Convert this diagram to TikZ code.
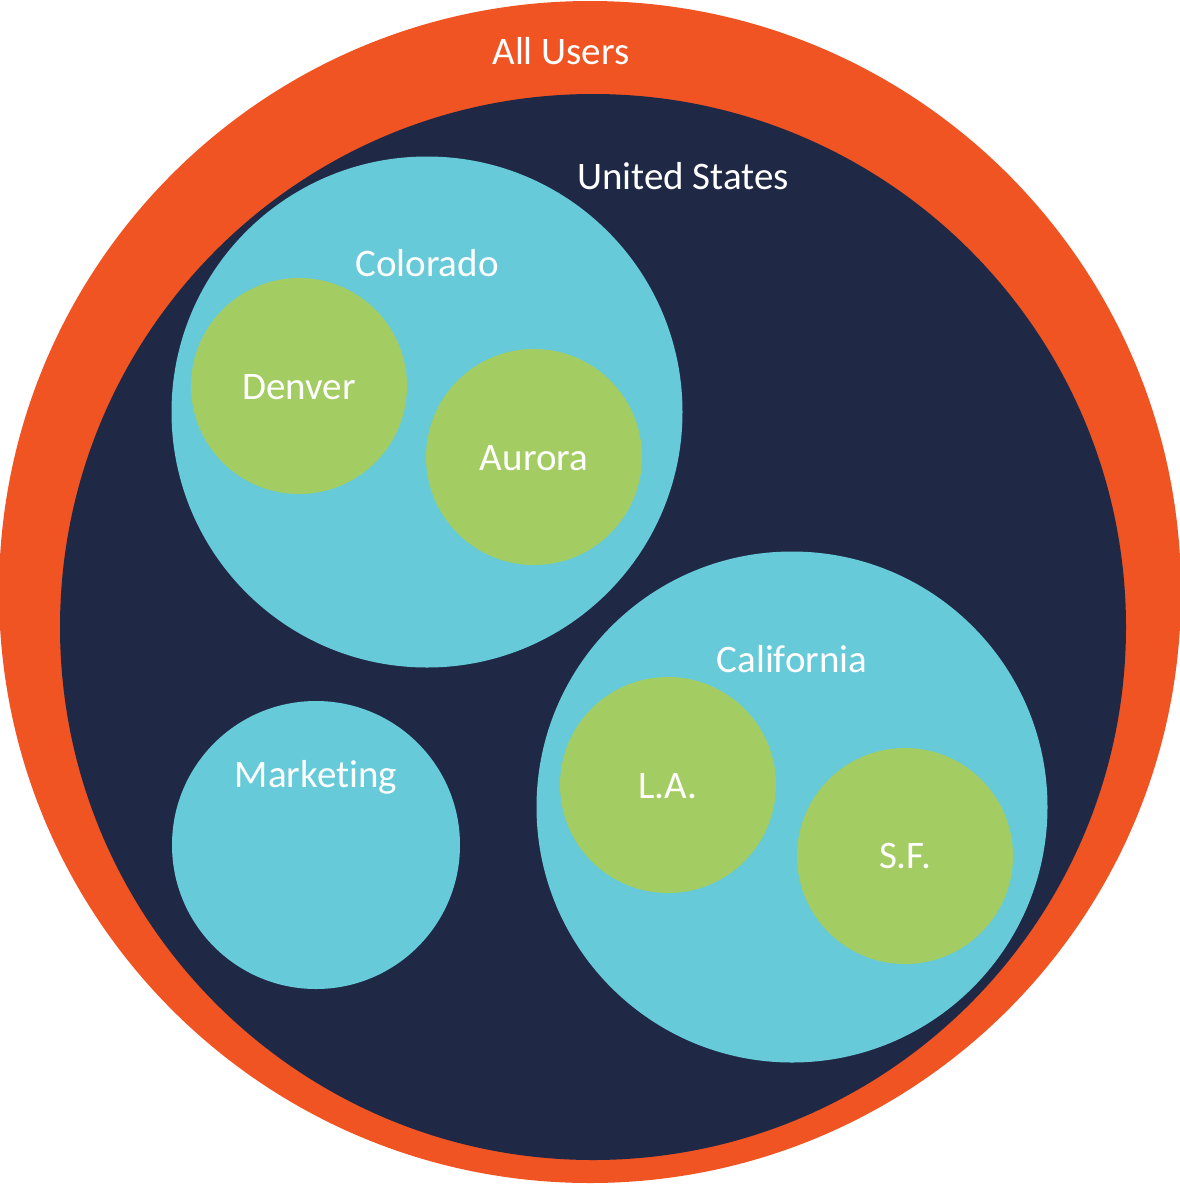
\documentclass[tikz,border=0pt]{standalone}
\usepackage{fontspec}
\setmainfont[Ligatures=NoCommon]{Carlito}
\definecolor{cOrange}{HTML}{F05423}
\definecolor{cNavy}{HTML}{1F2946}
\definecolor{cBlue}{HTML}{66CAD9}
\definecolor{cGreen}{HTML}{A3CD62}
\tikzset{
  disc/.style={circle, inner sep=0pt, draw=none},
  lbl/.style={text=white, font=\fontsize{39}{46}\selectfont, inner sep=0pt, anchor=center},
}
\begin{document}
\begin{tikzpicture}[x=1pt,y=-1pt]
\useasboundingbox (0,0) rectangle (1180,1184);
\node[disc, fill=cOrange, minimum size=1182pt] (all) at (590,592) {};
\node[disc, fill=cNavy, minimum size=1066pt] (us) at (593,627) {};
\node[disc, fill=cBlue, minimum size=511pt] (co) at (427,412) {};
\node[disc, fill=cGreen, minimum size=216pt] (den) at (299,386) {};
\node[disc, fill=cGreen, minimum size=216pt] (aur) at (534,457) {};
\node[disc, fill=cBlue, minimum size=288pt] (mkt) at (316,845) {};
\node[disc, fill=cBlue, minimum size=511pt] (ca) at (792,807) {};
\node[disc, fill=cGreen, minimum size=216pt] (la) at (668,785) {};
\node[disc, fill=cGreen, minimum size=216pt] (sf) at (905,856) {};
\node[lbl] (tall) at (561,51) {All Users};
\node[lbl] (tus) at (683,176) {United States};
\node[lbl] (tco) at (427,263) {Colorado};
\node[lbl] (tden) at (299,387) {Denver};
\node[lbl] (taur) at (534,458) {Aurora};
\node[lbl] (tmkt) at (316,777) {Marketing};
\node[lbl] (tca) at (792,659) {California};
\node[lbl] (tla) at (668,786) {L.A.};
\node[lbl] (tsf) at (905,856) {S.F.};
\end{tikzpicture}
\end{document}
